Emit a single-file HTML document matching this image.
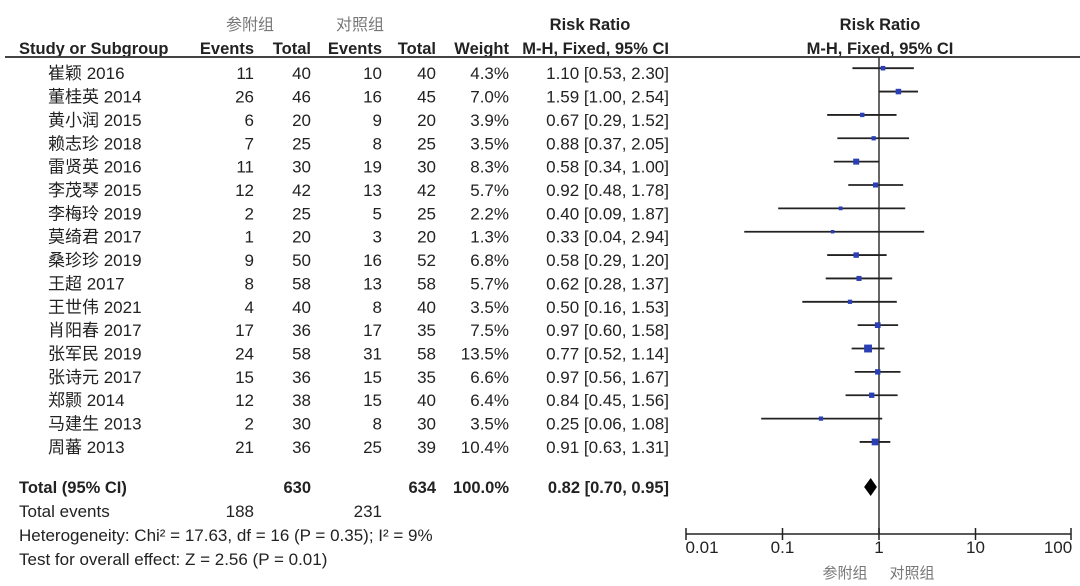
<!DOCTYPE html>
<html><head><meta charset="utf-8"><style>
html,body{margin:0;padding:0;background:#fff;}
svg{display:block;}
text{font-family:"Liberation Sans","Noto Sans CJK SC",sans-serif;font-size:17px;fill:#222;}
.b{font-weight:bold;font-size:16.5px;}
.g{fill:#777;}
</style></head><body>
<svg width="1080" height="586" viewBox="0 0 1080 586" xmlns="http://www.w3.org/2000/svg">
<text x="250" y="30" text-anchor="middle" class="g" style="font-size:16px">参附组</text>
<text x="360" y="30" text-anchor="middle" class="g" style="font-size:16px">对照组</text>
<text x="590" y="30" text-anchor="middle" class="b">Risk Ratio</text>
<text x="880" y="30" text-anchor="middle" class="b">Risk Ratio</text>
<text x="19" y="54" class="b">Study or Subgroup</text>
<text x="254" y="54" text-anchor="end" class="b">Events</text>
<text x="311" y="54" text-anchor="end" class="b">Total</text>
<text x="382" y="54" text-anchor="end" class="b">Events</text>
<text x="436" y="54" text-anchor="end" class="b">Total</text>
<text x="509" y="54" text-anchor="end" class="b">Weight</text>
<text x="669" y="54" text-anchor="end" class="b">M-H, Fixed, 95% CI</text>
<text x="880" y="54" text-anchor="middle" class="b">M-H, Fixed, 95% CI</text>
<line x1="5" y1="57" x2="1080" y2="57" stroke="#444" stroke-width="2"/>
<line x1="879" y1="57" x2="879" y2="534" stroke="#333" stroke-width="1.5"/>
<g id="rows"></g>
<text x="19" y="493" class="b">Total (95% CI)</text>
<text x="311" y="493" text-anchor="end" class="b">630</text>
<text x="436" y="493" text-anchor="end" class="b">634</text>
<text x="509" y="493" text-anchor="end" class="b">100.0%</text>
<text x="669" y="493" text-anchor="end" class="b">0.82 [0.70, 0.95]</text>
<polygon points="864.1,487 870.7,478 876.9,487 870.7,496" fill="#000"/>
<text x="19" y="517">Total events</text>
<text x="254" y="517" text-anchor="end">188</text>
<text x="382" y="517" text-anchor="end">231</text>
<text x="19" y="541">Heterogeneity: Chi² = 17.63, df = 16 (P = 0.35); I² = 9%</text>
<text x="19" y="565">Test for overall effect: Z = 2.56 (P = 0.01)</text>
<line x1="686" y1="534" x2="1071" y2="534" stroke="#222" stroke-width="1.5"/>
<g stroke="#222" stroke-width="1.5">
<line x1="686" y1="528" x2="686" y2="540"/><line x1="782.5" y1="528" x2="782.5" y2="540"/>
<line x1="879" y1="528" x2="879" y2="540"/><line x1="975.5" y1="528" x2="975.5" y2="540"/>
<line x1="1071" y1="528" x2="1071" y2="540"/></g>
<text x="702" y="553" text-anchor="middle">0.01</text>
<text x="782.5" y="553" text-anchor="middle">0.1</text>
<text x="879" y="553" text-anchor="middle">1</text>
<text x="975.5" y="553" text-anchor="middle">10</text>
<text x="1058" y="553" text-anchor="middle">100</text>
<text x="845" y="578" text-anchor="middle" class="g" style="font-size:15px">参附组</text>
<text x="912" y="578" text-anchor="middle" class="g" style="font-size:15px">对照组</text>
</svg>
<script>
var d=[["崔颖 2016",11,40,10,40,4.3,1.10,0.53,2.30],["董桂英 2014",26,46,16,45,7.0,1.59,1.00,2.54],["黄小润 2015",6,20,9,20,3.9,0.67,0.29,1.52],["赖志珍 2018",7,25,8,25,3.5,0.88,0.37,2.05],["雷贤英 2016",11,30,19,30,8.3,0.58,0.34,1.00],["李茂琴 2015",12,42,13,42,5.7,0.92,0.48,1.78],["李梅玲 2019",2,25,5,25,2.2,0.40,0.09,1.87],["莫绮君 2017",1,20,3,20,1.3,0.33,0.04,2.94],["桑珍珍 2019",9,50,16,52,6.8,0.58,0.29,1.20],["王超 2017",8,58,13,58,5.7,0.62,0.28,1.37],["王世伟 2021",4,40,8,40,3.5,0.50,0.16,1.53],["肖阳春 2017",17,36,17,35,7.5,0.97,0.60,1.58],["张军民 2019",24,58,31,58,13.5,0.77,0.52,1.14],["张诗元 2017",15,36,15,35,6.6,0.97,0.56,1.67],["郑颢 2014",12,38,15,40,6.4,0.84,0.45,1.56],["马建生 2013",2,30,8,30,3.5,0.25,0.06,1.08],["周蕃 2013",21,36,25,39,10.4,0.91,0.63,1.31]];
var NS="http://www.w3.org/2000/svg",g=document.getElementById("rows");
function X(v){return 879+96.4*Math.log10(v);}
function t(x,y,s,a){var e=document.createElementNS(NS,"text");e.setAttribute("x",x);e.setAttribute("y",y);if(a)e.setAttribute("text-anchor","end");e.textContent=s;g.appendChild(e);}
function f(v){return v.toFixed(2);}
d.forEach(function(r,i){var y=68.2+23.36*i,b=y+11;
t(48,b,r[0]);t(254,b,r[1],1);t(311,b,r[2],1);t(382,b,r[3],1);t(436,b,r[4],1);t(509,b,r[5].toFixed(1)+"%",1);
t(669,b,f(r[6])+" ["+f(r[7])+", "+f(r[8])+"]",1);
var l=document.createElementNS(NS,"line");l.setAttribute("x1",X(r[7]));l.setAttribute("x2",X(r[8]));l.setAttribute("y1",y);l.setAttribute("y2",y);l.setAttribute("stroke","#222");l.setAttribute("stroke-width","1.8");g.appendChild(l);
var s=3+r[5]*0.36,q=document.createElementNS(NS,"rect");q.setAttribute("x",X(r[6])-s/2);q.setAttribute("y",y-s/2);q.setAttribute("width",s);q.setAttribute("height",s);q.setAttribute("fill","#2a3fb5");g.appendChild(q);});
</script>
</body></html>
